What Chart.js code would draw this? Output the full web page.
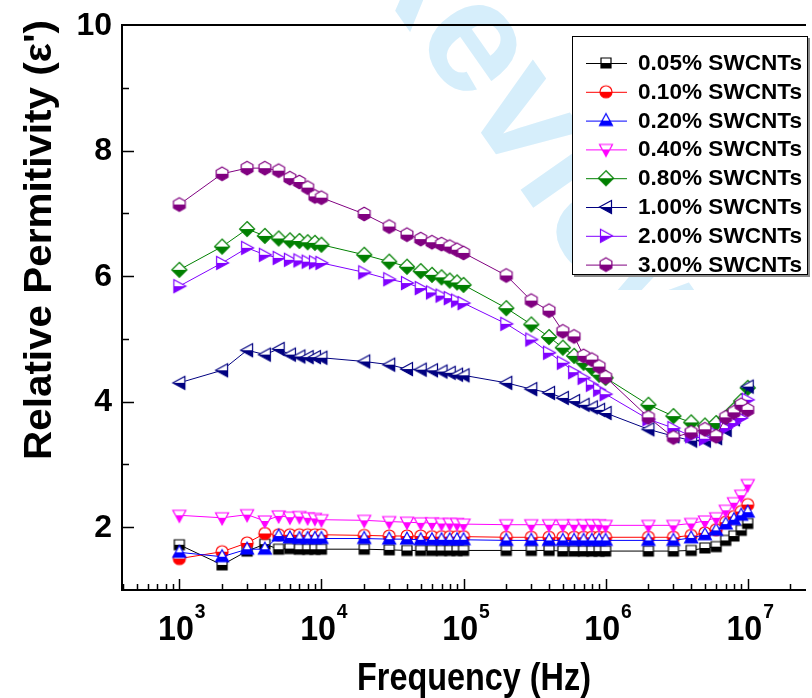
<!DOCTYPE html>
<html>
<head>
<meta charset="utf-8">
<script src="https://cdn.jsdelivr.net/npm/chart.js@4.4.1/dist/chart.umd.min.js"></script>
<style>
  html, body { margin: 0; padding: 0; background: #fff; overflow: hidden; }
  canvas { display: block; }
</style>
</head>
<body>
<canvas id="permitivity-chart" width="812" height="698"></canvas>
<script>
// frequency points (Hz)
const frequencies = [
    1e3, 2e3, 3e3, 4e3, 5e3, 6e3, 7e3, 8e3, 9e3,
    1e4, 2e4, 3e4, 4e4, 5e4, 6e4, 7e4, 8e4, 9e4,
    1e5, 2e5, 3e5, 4e5, 5e5, 6e5, 7e5, 8e5, 9e5,
    1e6, 2e6, 3e6, 4e6, 5e6, 6e6, 7e6, 8e6, 9e6,
    1e7
];

const seriesLabels = [
    "0.05% SWCNTs", "0.10% SWCNTs", "0.20% SWCNTs", "0.40% SWCNTs",
    "0.80% SWCNTs", "1.00% SWCNTs", "2.00% SWCNTs", "3.00% SWCNTs"
];

const swcnt005 = [1.72, 1.40, 1.62, 1.73, 1.65, 1.66, 1.65, 1.65, 1.65,
    1.65, 1.65, 1.64, 1.63, 1.63, 1.63, 1.63, 1.63, 1.63,
    1.63, 1.63, 1.63, 1.63, 1.62, 1.62, 1.62, 1.62, 1.62,
    1.62, 1.62, 1.62, 1.63, 1.67, 1.69, 1.79, 1.86, 1.95, 2.06];
const swcnt010 = [1.50, 1.61, 1.75, 1.90, 1.88, 1.88, 1.88, 1.88, 1.88,
    1.88, 1.87, 1.86, 1.86, 1.86, 1.85, 1.85, 1.85, 1.85,
    1.85, 1.84, 1.84, 1.84, 1.84, 1.84, 1.84, 1.84, 1.84,
    1.84, 1.84, 1.84, 1.87, 1.91, 1.96, 2.08, 2.17, 2.25, 2.36];
const swcnt020 = [1.60, 1.53, 1.65, 1.65, 1.86, 1.83, 1.82, 1.82, 1.82,
    1.82, 1.82, 1.81, 1.81, 1.80, 1.80, 1.80, 1.80, 1.80,
    1.80, 1.79, 1.79, 1.79, 1.79, 1.79, 1.79, 1.79, 1.79,
    1.79, 1.79, 1.79, 1.83, 1.88, 1.95, 2.05, 2.12, 2.19, 2.24];
const swcnt040 = [2.19, 2.15, 2.20, 2.10, 2.18, 2.16, 2.17, 2.15, 2.14,
    2.12, 2.11, 2.09, 2.08, 2.07, 2.07, 2.06, 2.06, 2.06,
    2.05, 2.04, 2.04, 2.04, 2.04, 2.04, 2.04, 2.04, 2.04,
    2.03, 2.03, 2.03, 2.06, 2.10, 2.15, 2.27, 2.39, 2.51, 2.68];
const swcnt080 = [6.10, 6.47, 6.75, 6.64, 6.60, 6.57, 6.56, 6.54, 6.53,
    6.50, 6.34, 6.23, 6.15, 6.08, 6.02, 5.98, 5.93, 5.90,
    5.86, 5.49, 5.23, 5.03, 4.86, 4.73, 4.62, 4.54, 4.43,
    4.38, 3.95, 3.77, 3.67, 3.62, 3.66, 3.74, 3.87, 4.01, 4.22];
const swcnt100 = [4.30, 4.50, 4.82, 4.75, 4.84, 4.75, 4.72, 4.71, 4.71,
    4.70, 4.64, 4.59, 4.52, 4.51, 4.50, 4.48, 4.46, 4.43,
    4.42, 4.30, 4.20, 4.14, 4.06, 4.01, 3.95, 3.91, 3.87,
    3.82, 3.56, 3.45, 3.38, 3.38, 3.42, 3.55, 3.72, 3.95, 4.24];
const swcnt200 = [5.84, 6.21, 6.45, 6.34, 6.29, 6.26, 6.25, 6.23, 6.22,
    6.21, 6.06, 5.95, 5.89, 5.81, 5.74, 5.69, 5.65, 5.61,
    5.57, 5.24, 4.99, 4.78, 4.62, 4.47, 4.38, 4.27, 4.19,
    4.12, 3.72, 3.58, 3.45, 3.41, 3.48, 3.58, 3.66, 3.74, 4.03];
const swcnt300 = [7.14, 7.63, 7.72, 7.72, 7.68, 7.56, 7.50, 7.41, 7.27,
    7.25, 6.99, 6.79, 6.66, 6.59, 6.54, 6.51, 6.47, 6.42,
    6.37, 6.01, 5.61, 5.45, 5.12, 5.04, 4.73, 4.67, 4.56,
    4.39, 3.75, 3.43, 3.51, 3.56, 3.45, 3.75, 3.83, 3.95, 3.87];

const seriesValues = [swcnt005, swcnt010, swcnt020, swcnt040, swcnt080, swcnt100, swcnt200, swcnt300];
const seriesColors = ["#000000", "#ff0000", "#0000ff", "#ff00ff", "#008000", "#000080", "#8000ff", "#800080"];
const seriesShapes = ["square", "circle", "triangleUp", "triangleDown", "diamond", "triangleLeft", "triangleRight", "hexagon"];

const yTickValues = [2, 4, 6, 8, 10];
const xTickExponents = [3, 4, 5, 6, 7];

const FONT = "'Liberation Sans', Arial, Helvetica, sans-serif";

// half filled marker: white top, coloured bottom
function makeMarker(shape, color) {
    const size = 20;
    const c = document.createElement("canvas");
    c.width = size;
    c.height = size;
    const g = c.getContext("2d");
    g.translate(size / 2, size / 2);

    const path = () => {
        g.beginPath();
        if (shape === "square") {
            g.rect(-5, -5, 10, 10);
        } else if (shape === "circle") {
            g.arc(0, 0, 6, 0, Math.PI * 2);
        } else if (shape === "triangleUp") {
            g.moveTo(0, -7); g.lineTo(6.5, 5); g.lineTo(-6.5, 5);
        } else if (shape === "triangleDown") {
            g.moveTo(0, 7); g.lineTo(6.5, -5); g.lineTo(-6.5, -5);
        } else if (shape === "diamond") {
            g.moveTo(0, -7.5); g.lineTo(7.5, 0); g.lineTo(0, 7.5); g.lineTo(-7.5, 0);
        } else if (shape === "triangleLeft") {
            g.moveTo(-6.5, 0); g.lineTo(5.5, -6.5); g.lineTo(5.5, 6.5);
        } else if (shape === "triangleRight") {
            g.moveTo(6.5, 0); g.lineTo(-5.5, -6.5); g.lineTo(-5.5, 6.5);
        } else if (shape === "hexagon") {
            for (let k = 0; k < 6; k++) {
                const a = -Math.PI / 2 + k * Math.PI / 3;
                const px = 6.8 * Math.cos(a), py = 6.8 * Math.sin(a);
                if (k === 0) g.moveTo(px, py); else g.lineTo(px, py);
            }
        }
        g.closePath();
    };

    path();
    g.fillStyle = "#ffffff";
    g.fill();
    g.save();
    g.beginPath();
    g.rect(-size / 2, 0, size, size / 2);
    g.clip();
    path();
    g.fillStyle = color;
    g.fill();
    g.restore();
    path();
    g.lineWidth = 1.2;
    g.strokeStyle = color;
    g.stroke();
    return c;
}

const markers = seriesShapes.map((s, i) => makeMarker(s, seriesColors[i]));

// frame, inward ticks, tick labels, titles, legend, watermark
const framePlugin = {
    id: "frame",
    beforeDraw(chart) {
        // light watermark behind the plot
        const ctx = chart.ctx;
        ctx.save();
        ctx.beginPath();
        ctx.rect(0, 0, 812, 290);
        ctx.clip();
        ctx.translate(482, 40);
        ctx.rotate(55 * Math.PI / 180);
        ctx.font = "bold 160px " + FONT;
        ctx.fillStyle = "#d6eefb";
        ctx.textAlign = "left";
        ctx.textBaseline = "middle";
        const wR = ctx.measureText("R").width;
        const wE = ctx.measureText("e").width;
        ctx.fillText("Review", -wR - wE / 2, 10);
        ctx.restore();
    },
    afterDatasetsDraw(chart) {
        const ctx = chart.ctx;
        const area = chart.chartArea;
        const xs = chart.scales.x;
        const ys = chart.scales.y;
        ctx.save();
        ctx.strokeStyle = "#000";
        ctx.lineWidth = 2;
        ctx.beginPath();
        ctx.moveTo(area.right + 2, area.top);
        ctx.lineTo(area.left, area.top);
        ctx.lineTo(area.left, area.bottom);
        ctx.lineTo(area.right + 2, area.bottom);
        ctx.stroke();

        // x ticks
        ctx.lineWidth = 1.5;
        ctx.beginPath();
        for (let e = 2; e <= 7; e++) {
            for (let m = 1; m <= 9; m++) {
                const v = m * Math.pow(10, e);
                if (v < xs.min || v > xs.max) continue;
                const px = Math.round(xs.getPixelForValue(v)) + 0.5;
                const len = m === 1 ? 11 : 6;
                ctx.moveTo(px, area.bottom);
                ctx.lineTo(px, area.bottom - len);
            }
        }
        // y ticks
        for (let v = 2; v <= 9; v++) {
            const py = Math.round(ys.getPixelForValue(v)) + 0.5;
            const len = v % 2 === 0 ? 12 : 7;
            ctx.moveTo(area.left, py);
            ctx.lineTo(area.left + len, py);
        }
        ctx.stroke();

        // y tick labels
        ctx.fillStyle = "#000";
        ctx.font = "bold 32px " + FONT;
        ctx.textAlign = "right";
        ctx.textBaseline = "middle";
        yTickValues.forEach(v => {
            ctx.fillText(String(v), area.left - 10, ys.getPixelForValue(v) + 1);
        });

        // x tick labels 10^n
        xTickExponents.forEach(e => {
            const px = xs.getPixelForValue(Math.pow(10, e));
            ctx.font = "bold 35px " + FONT;
            const wBase = ctx.measureText("10").width * 0.92;
            ctx.font = "bold 21px " + FONT;
            const wSup = ctx.measureText(String(e)).width * 0.92;
            const x0 = px - (wBase + wSup) / 2 + 2;
            ctx.save();
            ctx.translate(x0, 640);
            ctx.scale(0.92, 1);
            ctx.textAlign = "left";
            ctx.textBaseline = "alphabetic";
            ctx.font = "bold 35px " + FONT;
            ctx.fillText("10", 0, 0);
            ctx.font = "bold 21px " + FONT;
            ctx.fillText(String(e), wBase / 0.92 + 1, -22);
            ctx.restore();
        });

        // axis titles
        ctx.save();
        ctx.font = "bold 38px " + FONT;
        let w = ctx.measureText("Frequency (Hz)").width;
        ctx.translate(474, 690);
        ctx.scale(234 / w, 1);
        ctx.textAlign = "center";
        ctx.textBaseline = "alphabetic";
        ctx.fillText("Frequency (Hz)", 0, 0);
        ctx.restore();

        ctx.save();
        ctx.font = "bold 38px " + FONT;
        w = ctx.measureText("Relative Permitivity (\u03b5')").width;
        ctx.translate(51, 240);
        ctx.rotate(-Math.PI / 2);
        ctx.scale(440 / w, 1);
        ctx.textAlign = "center";
        ctx.textBaseline = "alphabetic";
        ctx.fillText("Relative Permitivity (\u03b5')", 0, 0);
        ctx.restore();

        // legend box
        const bx = 572, by = 36, bw = 236, bh = 239;
        ctx.fillStyle = "#8a8a8a";
        ctx.fillRect(bx + 2, by + 2, bw, bh);
        ctx.fillStyle = "#ffffff";
        ctx.fillRect(bx, by, bw, bh);
        ctx.strokeStyle = "#000";
        ctx.lineWidth = 1;
        ctx.strokeRect(bx + 0.5, by + 0.5, bw - 1, bh - 1);

        chart.data.datasets.forEach((ds, i) => {
            const ry = 63 + i * 28.8;
            ctx.strokeStyle = ds.borderColor;
            ctx.lineWidth = 1;
            ctx.beginPath();
            ctx.moveTo(586, ry + 0.5);
            ctx.lineTo(627, ry + 0.5);
            ctx.stroke();
            const mk = ds.pointStyle;
            ctx.drawImage(mk, 606 - mk.width / 2, ry - mk.height / 2);
            ctx.fillStyle = "#000";
            ctx.font = "bold 22px " + FONT;
            ctx.textAlign = "left";
            ctx.textBaseline = "middle";
            const tw = ctx.measureText(ds.label).width;
            ctx.save();
            ctx.translate(638, ry + 1);
            ctx.scale(Math.min(1.05, 164 / tw), 1);
            ctx.fillText(ds.label, 0, 0);
            ctx.restore();
        });
        ctx.restore();
    }
};

document.addEventListener("DOMContentLoaded", () => {
    const datasets = seriesLabels.map((label, i) => ({
        label: label,
        data: frequencies.map((f, j) => ({ x: f, y: seriesValues[i][j] })),
        borderColor: seriesColors[i],
        backgroundColor: seriesColors[i],
        borderWidth: 1,
        pointStyle: markers[i],
        pointRadius: 7,
        tension: 0,
        order: seriesLabels.length - i
    }));

    const ctx = document.getElementById("permitivity-chart").getContext("2d");
    new Chart(ctx, {
        type: "line",
        data: { datasets: datasets },
        options: {
            responsive: false,
            animation: false,
            devicePixelRatio: 1,
            layout: { padding: { left: 122, top: 25, right: 0, bottom: 108 } },
            scales: {
                x: { type: "logarithmic", min: 395, max: 2.49e7, display: false },
                y: { type: "linear", min: 1, max: 10, display: false }
            },
            plugins: {
                legend: { display: false },
                tooltip: { enabled: false }
            }
        },
        plugins: [framePlugin]
    });
});
</script>
</body>
</html>
